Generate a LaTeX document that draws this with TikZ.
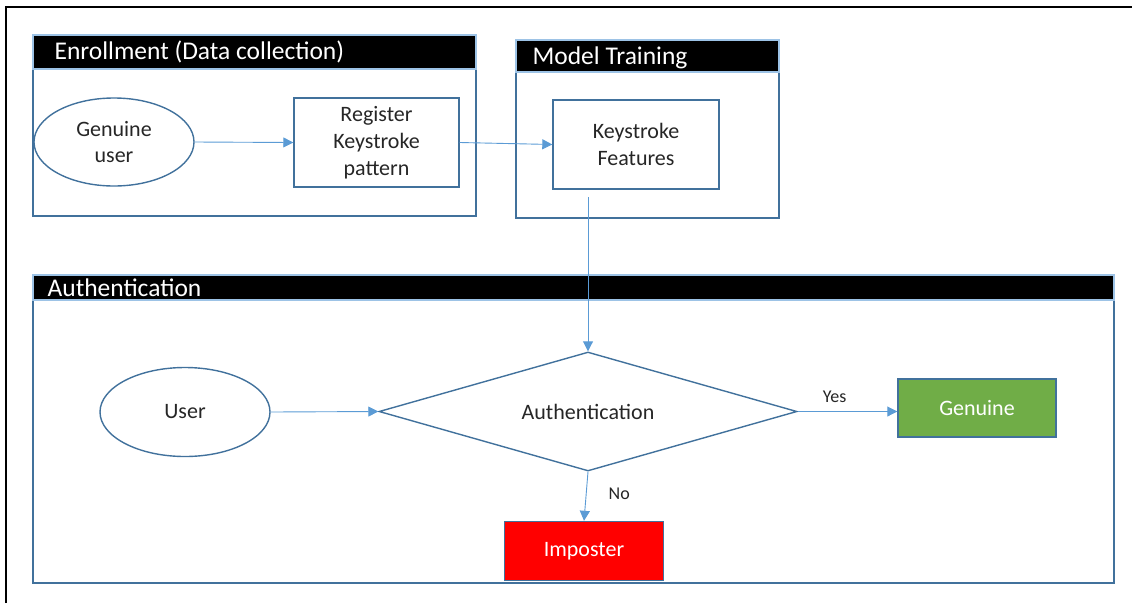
\documentclass[tikz,border=0pt]{standalone}
\usepackage{fontspec}
\setmainfont{Carlito}
\usetikzlibrary{shapes.geometric,arrows.meta,calc}
\definecolor{frameblue}{HTML}{41719C}
\definecolor{arrowblue}{HTML}{5B9BD5}
\definecolor{hdrblue}{HTML}{9DC3E6}
\definecolor{txtgray}{HTML}{262626}
\definecolor{okgreen}{HTML}{70AD47}
\tikzset{
  panel/.style={draw=frameblue, line width=1.6pt, minimum width=#1, inner sep=0pt},
  hdrbar/.style={draw=hdrblue, line width=1.2pt, fill=black, inner sep=0pt},
  hdrtext/.style={text=white, font=\fontsize{25.5}{28}\selectfont, inner sep=0pt, anchor=west},
  stepbox/.style={draw=frameblue, line width=1.4pt, align=center, text=txtgray,
    font=\fontsize{22}{27}\selectfont, inner sep=0pt},
  oval/.style={ellipse, draw=frameblue, line width=1.4pt, align=center, text=txtgray,
    font=\fontsize{22}{26}\selectfont, inner sep=0pt},
  flow/.style={draw=arrowblue, line width=0.9pt, -{Triangle[length=10pt,width=10pt]}},
  lbl/.style={text=txtgray, font=\fontsize{18}{20}\selectfont, inner sep=0pt}
}
\begin{document}
\begin{tikzpicture}[x=1pt,y=-1pt]
\useasboundingbox (0,0) rectangle (1132,603);
% outer frame (left and top edges only)
\draw[line width=2.6pt, black] (6,603) -- (6,7) -- (1132,7);

% ---------- Enrollment panel ----------
\node[panel=443pt, minimum height=181pt] (enr) at (254.5,125.5) {};
\node[hdrbar, minimum width=443pt, minimum height=34pt] (enrH) at (254.5,52) {};
\node[hdrtext] (enrT) at ($(enrH.west)+(22,0)$) {Enrollment (Data collection)};
\node[oval, minimum width=160pt, minimum height=88pt] (gu) at (114,142) {Genuine\\user};
\node[stepbox, minimum width=165pt, minimum height=89pt] (reg) at (376.5,142.5) {Register\\Keystroke\\pattern};

% ---------- Model training panel ----------
\node[panel=263pt, minimum height=178pt] (mt) at (647.5,129) {};
\node[hdrbar, minimum width=263pt, minimum height=32pt] (mtH) at (647.5,56) {};
\node[hdrtext] (mtT) at ($(mtH.west)+(17,2)$) {Model Training};
\node[stepbox, minimum width=166pt, minimum height=89pt] (kf) at (636,144.5) {Keystroke\\Features};

% ---------- Authentication panel ----------
\node[panel=1081pt, minimum height=308pt] (au) at (573.5,429) {};
\node[hdrbar, minimum width=1081pt, minimum height=25pt] (auH) at (573.5,287.5) {};
\node[hdrtext] (auT) at ($(auH.west)+(15,0.5)$) {Authentication};
\node[oval, minimum width=170pt, minimum height=89pt] (usr) at (185,412) {User};
\node[diamond, aspect=3.5, draw=frameblue, line width=1.4pt, inner sep=0pt, text=txtgray,
      font=\fontsize{22}{24}\selectfont, minimum width=418pt, minimum height=119pt]
      (dec) at (588,411.5) {Authentication};
\node[stepbox, fill=okgreen, text=white, minimum width=158pt, minimum height=58pt]
      (gen) at (977,408) {Genuine};
\node[stepbox, fill=red, text=white, minimum width=159pt, minimum height=59pt]
      (imp) at (584,551) {Imposter};

% feature line starts a little below the features box, above the decision
\coordinate (kfout) at (dec.north |- 0,197);

% ---------- connectors ----------
\draw[flow] (gu.east) -- (reg.west);
\draw[flow] (reg.east) -- (kf.west);
\draw[flow] (kfout) -- (dec.north);
\draw[flow] (usr.east) -- (dec.west);
\draw[flow] (dec.east) -- node[lbl, above=8pt, pos=0.37] {Yes} (dec.east -| gen.west);
\draw[flow] (dec.south) -- node[lbl, right=22pt, pos=0.45] {No} (imp.north);
\end{tikzpicture}
\end{document}
